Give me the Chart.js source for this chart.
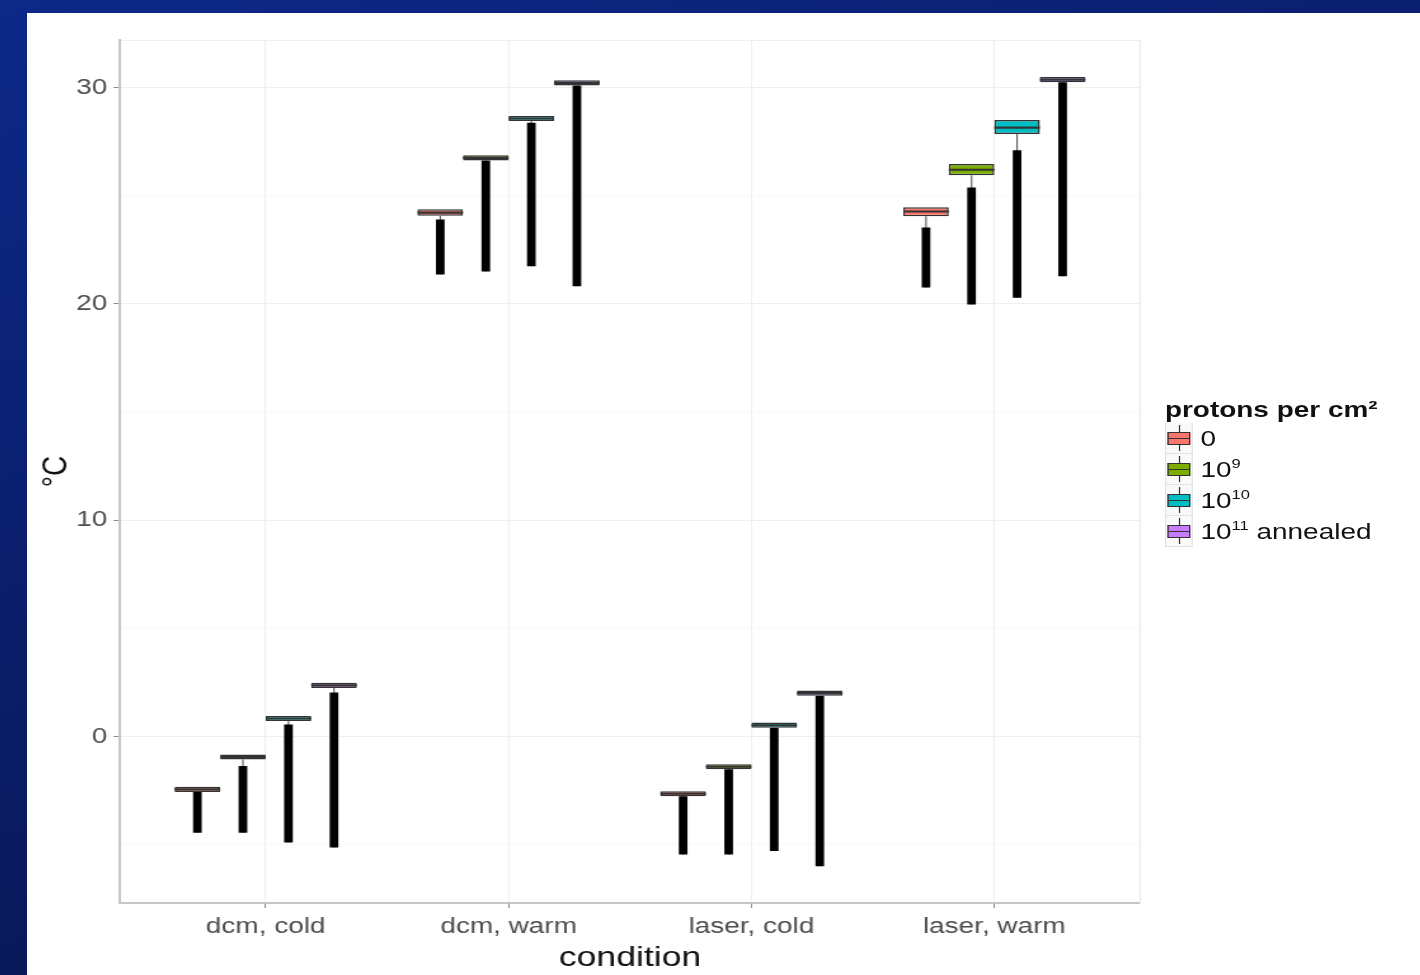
<!DOCTYPE html>
<html>
<head>
<meta charset="utf-8">
<script src="https://cdn.jsdelivr.net/npm/chart.js@4.4.1/dist/chart.umd.min.js"></script>
<style>
html, body { margin: 0; padding: 0; width: 1420px; height: 975px; overflow: hidden; }
body { background: linear-gradient(160deg, #0d2888 0%, #0a1d68 45%, #061243 100%); }
#sheet { position: absolute; left: 27px; top: 13px; width: 1393px; height: 962px; background: #fff; }
/* the original picture is stretched sideways, so the whole sheet is drawn narrow and widened */
#wrap { position: absolute; left: 0; top: 0; width: 1097px; height: 962px; transform: scaleX(1.27); transform-origin: 0 0; }
#chart { position: absolute; left: 0; top: 0; }
#legend { position: absolute; left: 896px; top: 383px; font-family: 'Liberation Sans', Arial, sans-serif; color: #111; }
#legend .title { font-weight: bold; font-size: 22px; line-height: 27px; white-space: nowrap; }
#legend .row { display: flex; align-items: center; height: 31px; }
#legend .key { position: relative; width: 20px; height: 30px; border: 1px solid #e2e2e2; border-top: none; background: #fafafa; }
#legend .row:first-of-type .key { border-top: 1px solid #e2e2e2; }
#legend .whisker { position: absolute; left: 10px; width: 1px; top: 2px; bottom: 2px; background: #333; }
#legend .box { position: absolute; left: 1px; right: 1px; top: 9px; height: 11px; border: 1px solid #333; }
#legend .box::after { content: ''; position: absolute; left: 0; right: 0; top: 5px; height: 1px; background: #333; }
#legend .lab { margin-left: 6px; font-size: 22px; white-space: nowrap; }
#legend sup { font-size: 13px; vertical-align: 9px; line-height: 0; }
</style>
</head>
<body>
<div id="sheet">
  <div id="wrap">
    <canvas id="chart" width="1097" height="962"></canvas>
    <div id="legend"></div>
  </div>
</div>
<script>
const conditions = ['dcm, cold', 'dcm, warm', 'laser, cold', 'laser, warm'];
const xTickValues = [1, 2, 3, 4];
const yTickValues = [0, 10, 20, 30];
const yMinorValues = [-5, 5, 15, 25];
const yMin = -7.7;
const yMax = 32.2;

// one legend entry per dose
const legendTitle = 'protons per cm²';
const doseBase = ['0', '10', '10', '10'];
const doseExp = ['', '9', '10', '11'];
const doseNote = ['', '', '', ' annealed'];
const doseColors = ['#F8766D', '#7CAE00', '#00BFC4', '#C77CFF'];

// rows = dose, columns = condition (°C)
const boxLow = [
    [-2.57, 24.08, -2.77, 24.05],
    [-1.07, 26.63, -1.52, 25.95],
    [0.71, 28.45, 0.40, 27.85],
    [2.24, 30.10, 1.88, 30.25]
];
const boxHigh = [
    [-2.33, 24.37, -2.53, 24.47],
    [-0.83, 26.87, -1.28, 26.47],
    [0.95, 28.69, 0.64, 28.50],
    [2.48, 30.34, 2.12, 30.49]
];
const boxMedian = [
    [-2.45, 24.22, -2.65, 24.27],
    [-0.95, 26.75, -1.40, 26.20],
    [0.83, 28.57, 0.52, 28.15],
    [2.36, 30.22, 2.00, 30.37]
];
// outlier points sit so close they form a solid column
const outLow = [
    [-4.45, 21.36, -5.46, 20.76],
    [-4.45, 21.50, -5.46, 19.97],
    [-4.90, 21.74, -5.30, 20.28],
    [-5.13, 20.82, -6.00, 21.28]
];
const outHigh = [
    [-2.57, 23.90, -2.77, 23.53],
    [-1.37, 26.63, -1.52, 25.38],
    [0.55, 28.37, 0.40, 27.10],
    [2.03, 30.10, 1.88, 30.25]
];

// legend, built from the dose arrays
const legendEl = document.getElementById('legend');
let legendHtml = '<div class="title">' + legendTitle + '</div>';
doseBase.forEach((base, d) => {
    const exp = doseExp[d] ? '<sup>' + doseExp[d] + '</sup>' : '';
    legendHtml += '<div class="row"><div class="key"><div class="whisker"></div>' +
        '<div class="box" style="background:' + doseColors[d] + '"></div></div>' +
        '<div class="lab">' + base + exp + doseNote[d] + '</div></div>';
});
legendEl.innerHTML = legendHtml;

Chart.defaults.font.family = "'Liberation Sans', Arial, sans-serif";

function rangeData(lows, highs) {
    return conditions.map((c, i) => ({ x: xTickValues[i], y: [lows[i], highs[i]] }));
}

const datasets = [];
doseColors.forEach((color, d) => {
    const stack = 'dose' + d;
    // median line
    datasets.push({
        stack: stack, order: 0,
        data: rangeData(boxMedian[d].map(v => v - 0.05), boxMedian[d].map(v => v + 0.05)),
        backgroundColor: '#333333', borderWidth: 0,
        categoryPercentage: 0.75, barPercentage: 1
    });
    // box
    datasets.push({
        stack: stack, order: 1,
        data: rangeData(boxLow[d], boxHigh[d]),
        backgroundColor: color, borderColor: '#333333', borderWidth: 1.5, borderSkipped: false,
        categoryPercentage: 0.75, barPercentage: 1
    });
    // outliers
    datasets.push({
        stack: stack, order: 2,
        data: rangeData(outLow[d], outHigh[d]),
        backgroundColor: '#000000', borderWidth: 0,
        categoryPercentage: 0.75, barPercentage: 0.19
    });
    // whisker
    datasets.push({
        stack: stack, order: 3,
        data: rangeData(outLow[d], boxLow[d]),
        backgroundColor: '#555555', borderWidth: 0,
        categoryPercentage: 0.75, barPercentage: 0.03
    });
});

new Chart(document.getElementById('chart').getContext('2d'), {
    type: 'bar',
    data: { datasets: datasets },
    options: {
        responsive: false,
        devicePixelRatio: 1,
        animation: false,
        layout: { padding: { left: 0, top: 27, right: 220.6, bottom: 0 } },
        plugins: {
            legend: { display: false },
            tooltip: { enabled: false }
        },
        scales: {
            x: {
                type: 'linear',
                min: 0.4,
                max: 4.6,
                offset: false,
                afterBuildTicks: s => { s.ticks = xTickValues.map(v => ({ value: v })); },
                afterFit: s => { s.height = 72; },
                ticks: {
                    callback: v => conditions[Math.round(v) - 1],
                    color: '#4d4d4d',
                    font: { size: 22 },
                    padding: 6,
                    maxRotation: 0,
                    autoSkip: false
                },
                grid: { offset: false, color: '#efefef', tickColor: '#8a8a8a', tickLength: 5 },
                border: { color: '#c6c6c6', width: 2 },
                title: {
                    display: true,
                    text: 'condition',
                    color: '#111',
                    font: { size: 28 },
                    padding: { top: 3, bottom: 0 }
                }
            },
            y: {
                type: 'linear',
                min: yMin,
                max: yMax,
                stacked: false,
                afterBuildTicks: s => {
                    s.ticks = yMinorValues.concat(yTickValues).sort((a, b) => a - b)
                        .concat([yMax]).map(v => ({ value: v }));
                },
                afterFit: s => { s.width = 73.2; },
                ticks: {
                    callback: v => yTickValues.includes(v) ? String(v) : '',
                    color: '#4d4d4d',
                    font: { size: 22 },
                    padding: 5
                },
                grid: {
                    color: c => (c.tick && yMinorValues.includes(c.tick.value)) ? '#f7f7f7' : '#efefef',
                    tickColor: c => (c.tick && yTickValues.includes(c.tick.value)) ? '#8a8a8a' : 'rgba(0,0,0,0)',
                    tickLength: 5
                },
                border: { color: '#c6c6c6', width: 2 },
                title: {
                    display: true,
                    text: '°C',
                    color: '#111',
                    font: { size: 28 },
                    padding: { top: 6, bottom: 0 }
                }
            },
            // faint right edge of the panel
            y2: {
                type: 'linear',
                position: 'right',
                min: 0,
                max: 1,
                afterFit: s => { s.width = 0; },
                ticks: { display: false },
                grid: { display: false, drawTicks: false },
                border: { display: true, color: '#e6e6e6', width: 1 }
            }
        }
    }
});
</script>
</body>
</html>
